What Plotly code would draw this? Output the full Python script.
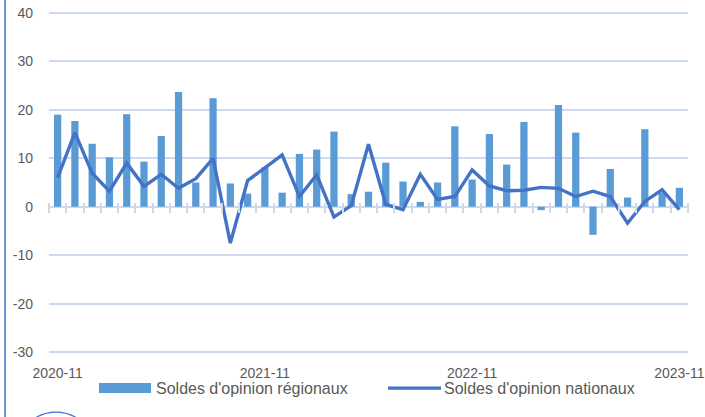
import plotly.graph_objects as go

# Mois de 2020-11 à 2023-11
months = [f"{2020 + (10 + i) // 12}-{(10 + i) % 12 + 1:02d}" for i in range(37)]

soldes_regionaux = [19.0, 17.7, 13.0, 10.2, 19.1, 9.3, 14.6, 23.7, 5.0, 22.4,
                    4.8, 2.7, 8.1, 2.9, 10.9, 11.8, 15.5, 2.6, 3.1, 9.1,
                    5.2, 1.0, 5.0, 16.6, 5.6, 15.0, 8.7, 17.5, -0.7, 21.0,
                    15.3, -5.8, 7.8, 1.9, 16.0, 2.9, 3.9]

soldes_nationaux = [6.0, 15.3, 6.9, 3.2, 9.0, 4.2, 6.7, 3.8, 5.8, 10.0,
                    -7.5, 5.4, 8.0, 10.7, 2.1, 6.6, -2.1, 0.2, 12.9, 0.5,
                    -0.6, 6.7, 1.5, 2.1, 7.6, 4.3, 3.3, 3.4, 4.0, 3.8,
                    2.1, 3.2, 2.1, -3.4, 1.1, 3.5, -0.6]

tick_labels = ["2020-11", "2021-11", "2022-11", "2023-11"]
y_ticks = [-30, -20, -10, 0, 10, 20, 30, 40]

Y_MIN, Y_MAX = -30, 40
BAR_COLOR = "#5B9BD5"
LINE_COLOR = "#4472C4"
grid_color = "#CCD9EF"
text_color = "#595959"
font = "Liberation Sans, Arial, sans-serif"

# position des lignes 40 et -30 en pixels (la marge du body est retirée plus bas)
GRID_TOP, GRID_BOT = 13, 352
PAD = 0.4  # petite marge pour que plotly garde les quadrillages extrêmes
pad_px = PAD * (GRID_BOT - GRID_TOP) / (Y_MAX - Y_MIN)
PLOT_L, PLOT_R = 49, 688
PLOT_T, PLOT_B = GRID_TOP - pad_px, GRID_BOT + pad_px
PW, PH = PLOT_R - PLOT_L, PLOT_B - PLOT_T


def px_x(x):
    return (x - PLOT_L) / PW


def px_y(y):
    return (PLOT_B - y) / PH


fig = go.Figure()

fig.add_trace(go.Bar(
    x=months, y=soldes_regionaux, name="Soldes d'opinion régionaux",
    marker=dict(color=BAR_COLOR, line=dict(width=0)),
))

fig.add_trace(go.Scatter(
    x=months, y=soldes_nationaux, name="Soldes d'opinion nationaux",
    mode="lines", line=dict(color=LINE_COLOR, width=3.4),
    xaxis="x2",
))

# axe des graduations, légèrement au-dessus du zéro pour que les traits croisent l'axe
zero_pos = (0 - (Y_MIN - PAD)) / (Y_MAX - Y_MIN + 2 * PAD) + 5 / PH

# légende dessinée à la main (pastilles longues comme dans l'original)
legend_shapes = [
    dict(type="rect", xref="paper", yref="paper",
         x0=px_x(99), x1=px_x(151), y0=px_y(393), y1=px_y(383),
         fillcolor=BAR_COLOR, line=dict(width=0)),
    dict(type="line", xref="paper", yref="paper",
         x0=px_x(388), x1=px_x(441), y0=px_y(388), y1=px_y(388),
         line=dict(color=LINE_COLOR, width=3.4)),
]
legend_annotations = [
    dict(text=fig.data[0].name, xref="paper", yref="paper",
         x=px_x(154), y=px_y(388), xanchor="left", yanchor="middle",
         showarrow=False, font=dict(size=16, color=text_color, family=font)),
    dict(text=fig.data[1].name, xref="paper", yref="paper",
         x=px_x(442), y=px_y(388), xanchor="left", yanchor="middle",
         showarrow=False, font=dict(size=16, color=text_color, family=font)),
]

fig.update_layout(
    width=705, height=417,
    margin=dict(l=PLOT_L, r=705 - PLOT_R, t=PLOT_T, b=417 - PLOT_B),
    paper_bgcolor="white", plot_bgcolor="white",
    font=dict(family=font, size=14, color=text_color),
    bargap=0.58,
    showlegend=False,
    xaxis=dict(
        type="category", range=[-0.5, 36.5], automargin=False,
        tickmode="array", tickvals=tick_labels, ticktext=tick_labels,
        showgrid=False, showline=False, ticks="", zeroline=False,
        ticklabelstandoff=9,
        tickfont=dict(size=14, color=text_color),
    ),
    xaxis2=dict(
        type="category", overlaying="x", matches="x", anchor="free",
        position=zero_pos, side="bottom", automargin=False,
        showticklabels=False, showgrid=False, showline=False, zeroline=False,
        ticks="outside", ticklen=10, tickwidth=1.5, tickcolor=grid_color,
        tickson="boundaries", tickmode="linear", dtick=1,
    ),
    yaxis=dict(
        range=[Y_MIN - PAD, Y_MAX + PAD], automargin=False,
        tickmode="array", tickvals=y_ticks, ticktext=[str(v) for v in y_ticks],
        showgrid=True, gridcolor=grid_color, gridwidth=1.5,
        zeroline=True, zerolinecolor=grid_color, zerolinewidth=1.5,
        showline=False, ticks="", ticklabelstandoff=15,
        ticklabeloverflow="allow",
        tickfont=dict(size=14, color=text_color),
    ),
    shapes=[
        dict(type="line", xref="paper", yref="paper",
             x0=px_x(5), x1=px_x(5), y0=px_y(430), y1=px_y(-5),
             line=dict(color=LINE_COLOR, width=1.5)),
        dict(type="circle", xref="paper", yref="paper",
             x0=px_x(17), x1=px_x(95), y0=px_y(490), y1=px_y(412),
             line=dict(color=LINE_COLOR, width=1.2)),
    ] + legend_shapes,
    annotations=legend_annotations,
)

fig.write_html("out.html", config={"displayModeBar": False},
               post_script="document.body.style.margin = '0';")
